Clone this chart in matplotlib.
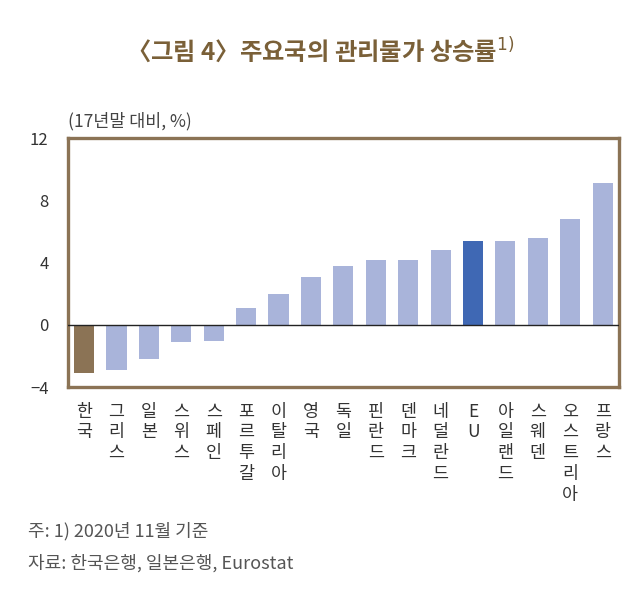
import matplotlib
matplotlib.use("Agg")
import matplotlib.pyplot as plt

plt.rcParams['font.family'] = ['Noto Sans CJK KR', 'DejaVu Sans']

countries = ["한국", "그리스", "일본", "스위스", "스페인", "포르투갈", "이탈리아", "영국", "독일",
             "핀란드", "덴마크", "네덜란드", "EU", "아일랜드", "스웨덴", "오스트리아", "프랑스"]
values = [-3.1, -2.9, -2.2, -1.1, -1.0, 1.1, 2.0, 3.1, 3.8, 4.2, 4.2, 4.8, 5.4, 5.4, 5.6, 6.8, 9.1]
yticks = [-4, 0, 4, 8, 12]

brown = "#8B7355"
light = "#A9B4DA"
eu = "#3F68B4"
colors = [brown if c == "한국" else (eu if c == "EU" else light) for c in countries]

fig = plt.figure(figsize=(6.4, 6.06), dpi=100)
ax = fig.add_axes([0.106, 0.361, 0.861, 0.411])
x = list(range(len(countries)))
ax.bar(x, values, width=0.62, color=colors, zorder=2)
ax.axhline(0, color="#222222", lw=1.0, zorder=3)
ax.set_xlim(-0.5, len(countries) - 0.5)
ax.set_ylim(-4, 12)
ax.set_yticks(yticks)
ax.set_yticklabels([str(v).replace("-", "−") for v in yticks], fontsize=12, color="#333333")
ax.tick_params(axis='y', length=0, pad=14)
ax.tick_params(axis='x', length=0, pad=11)
ax.set_xticks(x)
ax.set_xticklabels(["\n".join(list(c)) for c in countries], fontsize=12.5, color="#333333",
                   linespacing=1.2, va="top")
for s in ax.spines.values():
    s.set_color(brown)
    s.set_linewidth(2.4)

fig.text(0.106, 0.8, "(17년말 대비, %)", fontsize=12.5, color="#444444", ha="left", va="center")
fig.text(0.5, 0.918, "〈그림 4〉주요국의 관리물가 상승률$^{1)}$", fontsize=17.5, color="#7A6038",
         ha="center", va="center", fontweight="bold")
fig.text(0.044, 0.123, "주: 1) 2020년 11월 기준", fontsize=13, color="#555555", ha="left", va="center")
fig.text(0.044, 0.071, "자료: 한국은행, 일본은행, Eurostat", fontsize=13, color="#555555", ha="left", va="center")

fig.savefig("out.png", dpi=100, facecolor="white")
